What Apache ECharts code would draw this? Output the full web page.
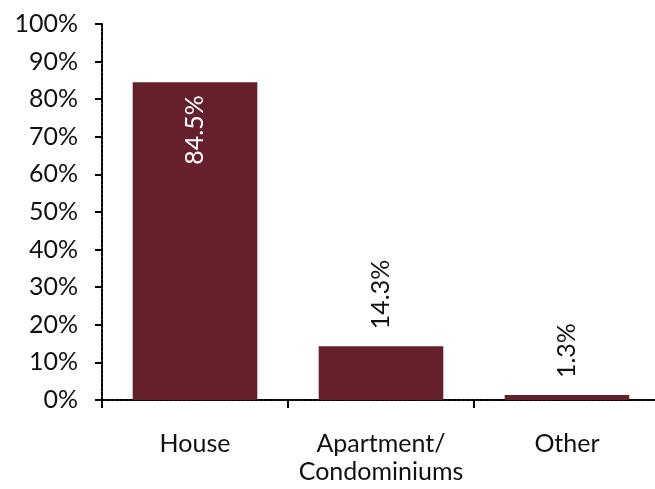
<!DOCTYPE html>
<html>
<head>
<meta charset="utf-8">
<script src="https://cdn.jsdelivr.net/npm/echarts@6/dist/echarts.min.js"></script>
<style>
  html, body { margin: 0; padding: 0; background: #fff; }
  #chart { width: 655px; height: 489px; }
</style>
</head>
<body>
<div id="chart"></div>
<script>
// Dwelling type shares (percent)
const categories = ['House', 'Apartment/\nCondominiums', 'Other'];
const shares = [84.5, 14.3, 1.3];
const yTicks = [0, 10, 20, 30, 40, 50, 60, 70, 80, 90, 100];

const FONT = 'Lato';
const BAR_COLOR = '#65202b';
const axisLine = { show: true, lineStyle: { color: '#000', width: 2, type: [3, 1.5] } };

const chart = echarts.init(document.getElementById('chart'), null, { renderer: 'canvas' });

const barData = shares.map((v, i) => {
  const inside = i === 0;
  return {
    value: v,
    label: inside
      ? { position: 'insideTop', distance: 13, align: 'right', verticalAlign: 'middle', color: '#fff' }
      : { position: 'top', distance: 17, align: 'left', verticalAlign: 'middle', color: '#111' }
  };
});

chart.setOption({
  animation: false,
  grid: { left: 102, width: 558, top: 24, bottom: 89, containLabel: false, outerBoundsMode: 'none' },
  xAxis: {
    type: 'category',
    data: categories,
    axisLine: axisLine,
    axisTick: { show: true, interval: 0, length: 8, lineStyle: { color: '#000', width: 2 } },
    axisLabel: { interval: 0, margin: 30, fontFamily: FONT, fontSize: 25, color: '#111', lineHeight: 28 }
  },
  yAxis: {
    type: 'value',
    min: yTicks[0],
    max: yTicks[yTicks.length - 1],
    interval: 10,
    splitLine: { show: false },
    axisLine: axisLine,
    axisTick: { show: true, length: 7, lineStyle: { color: '#000', width: 2 } },
    axisLabel: { margin: 24, fontFamily: FONT, fontSize: 25, color: '#111', formatter: v => v + '%' }
  },
  series: [{
    type: 'bar',
    data: barData,
    barCategoryGap: '33%',
    itemStyle: { color: BAR_COLOR },
    label: {
      show: true,
      rotate: 90,
      fontFamily: FONT,
      fontSize: 25,
      formatter: p => p.value.toFixed(1) + '%'
    }
  }]
});
</script>
</body>
</html>
